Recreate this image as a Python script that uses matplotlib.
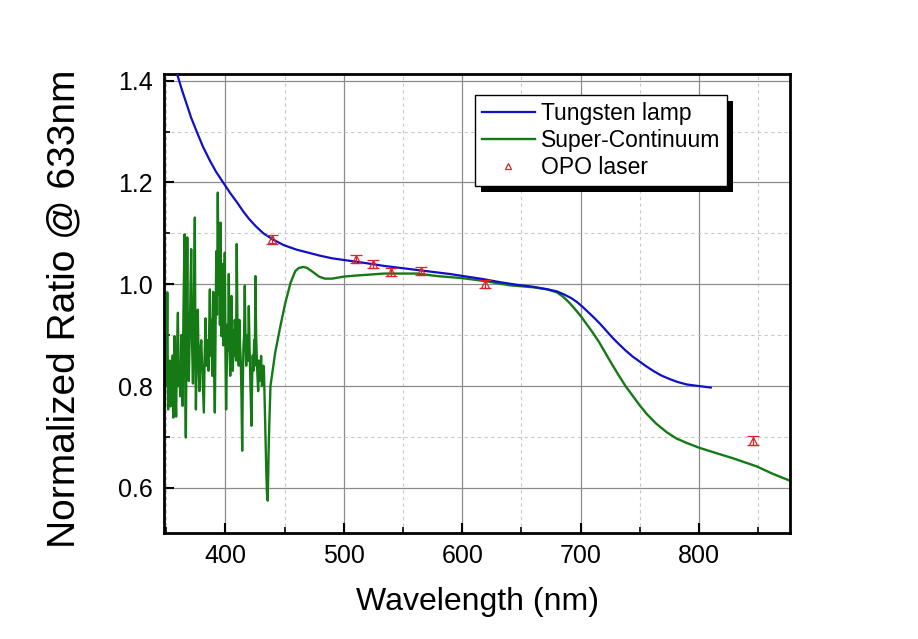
import numpy as np
import matplotlib
matplotlib.use("Agg")
import matplotlib.pyplot as plt
from matplotlib.ticker import MultipleLocator, FormatStrFormatter
from matplotlib.patches import Rectangle

plt.rcParams['font.family'] = ['Liberation Sans', 'DejaVu Sans']

# Tungsten lamp (smooth curve)
tung_wl = [355, 359, 363, 367, 371, 376, 381, 387, 392, 398, 404, 410, 415, 420,
           426, 432, 440, 449, 460, 470, 480, 490, 505, 520, 534, 548, 562, 576,
           590, 604, 618, 632, 646, 660, 672, 680, 686, 692, 697, 702, 707, 712,
           717, 722, 727, 733, 738, 744, 750, 756, 762, 768, 775, 782, 790, 800, 810]
tung_val = [1.44, 1.414, 1.383, 1.355, 1.327, 1.298, 1.27, 1.242, 1.221, 1.20,
            1.179, 1.16, 1.143, 1.128, 1.113, 1.10, 1.088, 1.077, 1.068, 1.062,
            1.056, 1.051, 1.046, 1.041, 1.036, 1.032, 1.028, 1.024, 1.02, 1.015,
            1.01, 1.004, 0.999, 0.995, 0.99, 0.986, 0.98, 0.973, 0.965, 0.955,
            0.944, 0.933, 0.921, 0.908, 0.895, 0.881, 0.87, 0.858, 0.848, 0.838,
            0.829, 0.821, 0.814, 0.808, 0.803, 0.8, 0.797]

# Super-Continuum (noisy below ~436 nm, smooth above)
sc_wl = [348, 348.7, 349.4, 350.1, 350.8, 351.5, 352.2, 353, 353.7, 354.4, 355.1,
         355.9, 356.5, 357, 357.6, 358.3, 359, 359.8, 360.4, 361, 361.8, 362.6,
         363.2, 363.7, 364.5, 365.4, 366, 366.5, 367.1, 367.7, 368.3, 369, 370,
         371, 371.8, 372.5, 373.3, 374.1, 374.6, 375, 375.8, 376.6, 377.3, 378,
         378.8, 379.5, 380.6, 381.7, 382.4, 383.1, 383.8, 384.5, 385.6, 386.8,
         387.4, 388, 388.8, 389.6, 390.3, 391, 391.6, 392.2, 392.8, 393.5, 394.2,
         394.9, 395.3, 395.8, 396.2, 396.6, 397.1, 397.7, 398.1, 398.5, 398.9,
         399.4, 400, 400.5, 401.1, 401.7, 402.2, 402.8, 403.4, 404, 404.6, 405.1,
         405.6, 406.2, 406.7, 407.3, 407.8, 408.4, 408.9, 409.5, 410.1, 410.7,
         411.2, 411.8, 412.3, 412.9, 413.5, 414.1, 414.6, 415.2, 415.7, 416.3,
         416.9, 417.5, 418, 418.6, 419.1, 419.7, 420.2, 420.8, 421.3, 421.9,
         422.4, 423, 423.6, 424.2, 424.7, 425.3, 425.9, 426.5, 427, 427.6, 428.2,
         428.8, 429.4, 430.1, 430.8, 431.5, 432, 432.5, 433.2, 433.8, 434.4, 435,
         435.7, 436.5, 437.2, 438,
         442, 446.4, 450.6, 455, 459, 462, 466, 469, 474.5, 479, 484, 490, 500,
         510, 522, 534, 548, 562, 579, 600, 620, 640, 660, 672, 680, 685, 690,
         695, 700, 705, 710, 716, 721, 726, 732, 738, 745, 750, 756, 764, 773,
         781, 790, 800, 815, 829, 849, 862, 877]
sc_val = [0.90, 0.76, 0.892, 0.80, 0.984, 0.754, 0.84, 0.85, 0.76, 0.813, 0.86,
          0.738, 0.82, 0.898, 0.79, 0.74, 0.86, 0.944, 0.80, 0.827, 0.78, 0.90,
          0.83, 0.761, 0.95, 1.098, 0.80, 0.699, 0.90, 1.092, 0.86, 0.81, 0.93,
          1.069, 0.88, 0.805, 0.95, 1.131, 0.86, 0.754, 0.88, 0.95, 0.84, 0.79,
          0.87, 0.89, 0.82, 0.748, 0.86, 0.933, 0.84, 0.89, 0.83, 0.99, 0.86,
          0.93, 0.82, 0.985, 0.85, 0.748, 0.90, 1.065, 0.94, 1.18, 0.98, 1.043,
          0.92, 1.121, 0.95, 0.898, 0.97, 1.04, 0.88, 0.97, 0.90, 1.062, 0.86,
          0.754, 0.84, 0.921, 0.87, 1.02, 0.88, 0.82, 0.90, 0.977, 0.86, 0.83,
          0.91, 0.86, 0.93, 0.90, 0.85, 1.079, 0.92, 0.89, 0.84, 0.93, 0.88,
          0.85, 0.78, 0.673, 0.80, 0.88, 0.90, 0.997, 0.89, 0.84, 0.88, 0.90,
          0.85, 0.957, 0.89, 0.83, 0.78, 0.722, 0.80, 0.86, 0.83, 0.89, 0.84,
          1.016, 0.90, 0.85, 0.82, 0.79, 0.85, 0.81, 0.83, 0.859, 0.80, 0.813,
          0.84, 0.83, 0.76, 0.695, 0.64, 0.59, 0.575, 0.68, 0.74, 0.80,
          0.866, 0.918, 0.964, 1.003, 1.026, 1.032, 1.034, 1.032, 1.023, 1.015,
          1.011, 1.011, 1.015, 1.017, 1.019, 1.021, 1.021, 1.021, 1.016, 1.012,
          1.006, 0.998, 0.994, 0.99, 0.984, 0.976, 0.965, 0.952, 0.938, 0.922,
          0.906, 0.885, 0.865, 0.845, 0.822, 0.80, 0.778, 0.762, 0.745, 0.726,
          0.709, 0.697, 0.688, 0.679, 0.668, 0.658, 0.642, 0.628, 0.614]

# OPO laser points
opo_wl = [439, 510, 525, 540, 565, 619, 846]
opo_val = [1.088, 1.049, 1.039, 1.024, 1.026, 1.0, 0.693]
opo_err = [0.008, 0.008, 0.008, 0.008, 0.008, 0.008, 0.008]

fig = plt.figure(figsize=(9.18, 6.39), dpi=100)
ax = fig.add_axes([0.1786, 0.1664, 0.6820, 0.7178])

red = '#E0202A'
ax.plot(tung_wl, tung_val, color='#1010C8', lw=1.6, label='Tungsten lamp', zorder=3)
ax.plot(sc_wl, sc_val, color='#157A15', lw=1.7, label='Super-Continuum', zorder=2)
ax.errorbar(opo_wl, opo_val, yerr=opo_err, fmt='none', ecolor=red, elinewidth=0.9,
            capsize=4.5, capthick=0.9, zorder=4)
ax.plot(opo_wl, opo_val, ls='none', marker='^', ms=6, mfc='none', mec=red,
        mew=0.9, label='OPO laser', zorder=4)

ax.set_xlim(348, 877)
ax.set_ylim(0.512, 1.413)

ax.xaxis.set_major_locator(MultipleLocator(100))
ax.xaxis.set_minor_locator(MultipleLocator(50))
ax.yaxis.set_major_locator(MultipleLocator(0.2))
ax.yaxis.set_minor_locator(MultipleLocator(0.1))
ax.yaxis.set_major_formatter(FormatStrFormatter('%.1f'))

ax.grid(which='major', color='#8c8c8c', lw=0.9, ls='-', zorder=0)
ax.grid(which='minor', color='#c8c8c8', lw=0.8, ls=(0, (3, 3)), zorder=0)
ax.set_axisbelow(True)

ax.tick_params(which='both', direction='in', top=False, right=False)
ax.tick_params(which='major', length=7, width=1.5, labelsize=18, pad=8)
ax.tick_params(which='minor', length=4, width=1.2)
for s in ax.spines.values():
    s.set_linewidth(2)

fig.text(477 / 918, 1 - 602 / 639, 'Wavelength (nm)', fontsize=23,
         ha='center', va='center')
fig.text(64 / 918, 1 - 309 / 639, 'Normalized Ratio @ 633nm', fontsize=28,
         ha='center', va='center', rotation=90)

leg = ax.legend(loc='upper right', bbox_to_anchor=(0.899, 0.954), borderaxespad=0,
                fontsize=16.5, frameon=True, fancybox=False, framealpha=1,
                edgecolor='black', handlelength=2.3, handletextpad=0.25,
                labelspacing=0.18, borderpad=0.3, numpoints=1)
leg.get_frame().set_linewidth(1.0)
leg.set_zorder(6)
for h in leg.legend_handles:
    if h.get_marker() == '^':
        h.set_markersize(5)

# hand-drawn black drop shadow behind the legend
fig.canvas.draw()
bb = leg.get_window_extent().transformed(ax.transAxes.inverted())
off_x = 6 / (0.6820 * 918)
off_y = 6 / (0.7178 * 639)
ax.add_patch(Rectangle((bb.x0 + off_x, bb.y0 - off_y), bb.width, bb.height,
                       transform=ax.transAxes, facecolor='black', edgecolor='none',
                       zorder=5.5, clip_on=False))

fig.savefig('out.png', dpi=100)
